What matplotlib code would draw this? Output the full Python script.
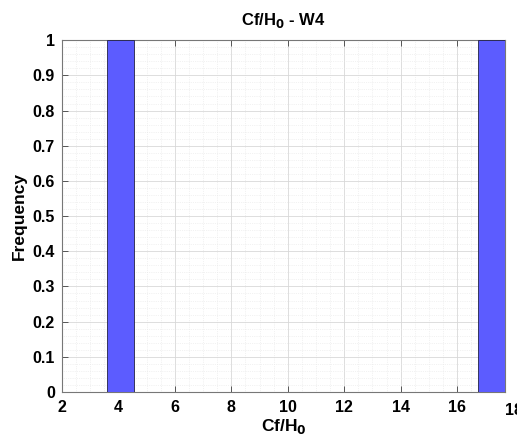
import matplotlib
matplotlib.use("Agg")
import matplotlib.pyplot as plt
from matplotlib.ticker import MultipleLocator

plt.rcParams['font.family'] = ['Liberation Sans', 'DejaVu Sans']

bin_left = [3.6, 16.75]
bin_right = [4.55, 17.7]
freq = [1.0, 1.0]
xticks = [2, 4, 6, 8, 10, 12, 14, 16]
yticks = [0, 0.1, 0.2, 0.3, 0.4, 0.5, 0.6, 0.7, 0.8, 0.9, 1]
title = "Cf/H$_\\mathbf{0}$ - W4"
xlabel = "Cf/H$_\\mathbf{0}$"
ylabel = "Frequency"

fig = plt.figure(figsize=(5.17, 4.37), dpi=100)
ax = fig.add_axes([0.12, 0.103, 0.857, 0.805])

widths = [r - l for l, r in zip(bin_left, bin_right)]
ax.bar(bin_left, freq, width=widths, align='edge', color=(0.36, 0.36, 1.0),
       edgecolor='#222244', linewidth=0.6, zorder=3)

ax.set_xlim(2, 17.7)
ax.set_ylim(0, 1)
ax.set_xticks(xticks)
ax.set_yticks(yticks)
ax.set_yticklabels([f"{v:g}" for v in yticks])
ax.xaxis.set_minor_locator(MultipleLocator(0.5))
ax.yaxis.set_minor_locator(MultipleLocator(0.02))
ax.grid(True, which='major', color='#d8d8d8', linewidth=0.6, zorder=0)
ax.grid(True, which='minor', color='#e6e6e6', linewidth=0.5, linestyle=':', zorder=0)
ax.tick_params(which='both', direction='in', top=True, right=True, labelsize=11.5, width=0.7, color='#555555')
ax.tick_params(which='major', length=4)
ax.tick_params(axis='x', which='major', pad=6)
ax.tick_params(axis='y', which='major', pad=5)
ax.tick_params(which='minor', length=0)
for lab in ax.get_xticklabels() + ax.get_yticklabels():
    lab.set_fontweight('bold')
# label for 18 just outside the right limit (as in the reference)
ax.text(18, -0.032, "18", transform=ax.get_xaxis_transform(), ha='center', va='top',
        fontsize=11.5, fontweight='bold', clip_on=False)
for s in ax.spines.values():
    s.set_color('#777777')
    s.set_linewidth(0.8)

ax.set_title(title, fontsize=12, fontweight='bold', pad=11)
ax.set_xlabel(xlabel, fontsize=12.5, fontweight='bold', labelpad=1)
ax.set_ylabel(ylabel, fontsize=12.5, fontweight='bold', labelpad=4)

fig.savefig("out.png", dpi=100)
